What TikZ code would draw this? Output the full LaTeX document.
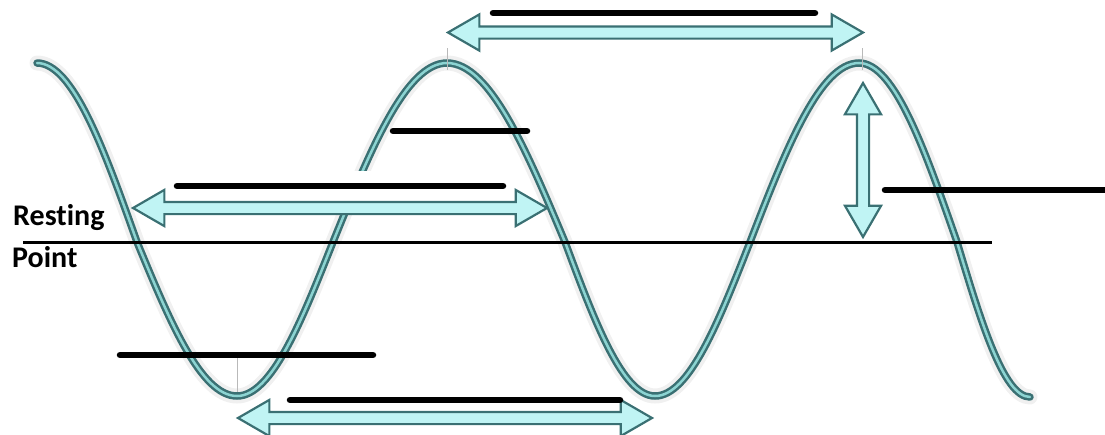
\documentclass[tikz,border=0pt]{standalone}
\usepackage{fontspec}
\setmainfont{Carlito}[Ligatures={NoCommon}]
\usetikzlibrary{shapes.arrows}
\definecolor{wavedark}{RGB}{58,112,115}
\definecolor{wavelight}{RGB}{140,212,210}
\definecolor{arrowfill}{RGB}{192,244,244}
\begin{document}
\begin{tikzpicture}[x=1pt,y=-1pt,
  glow/.style={line width=15pt, draw=gray!12, line cap=round},
  wave/.style={line width=7.5pt, draw=wavedark, line cap=round},
  waveinner/.style={line width=2.5pt, draw=wavelight, line cap=round},
  dblarrow/.style={double arrow, draw=wavedark, fill=arrowfill, line width=2.2pt,
    inner xsep=0pt, inner ysep=5pt, double arrow head extend=12pt,
    double arrow tip angle=60, minimum height=#1, anchor=center},
  blank/.style={line width=6.5pt, line cap=round, draw=black},
  rest/.style={line width=3pt, draw=black},
  tickmark/.style={line width=1pt, draw=gray!55},
  lbl/.style={font=\bfseries\fontsize{30}{33}\selectfont, inner sep=0pt, anchor=base west}]
\useasboundingbox (0,0) rectangle (1105,434);
% wave
\draw[glow] (37,63) cos (137,242) sin (237,396) cos (333,242) sin (447,63) cos (565,242) sin (655,396) cos (750,242) sin (859,63) cos (957,242) sin (1030,397);
\draw[wave] (37,63) cos (137,242) sin (237,396) cos (333,242) sin (447,63) cos (565,242) sin (655,396) cos (750,242) sin (859,63) cos (957,242) sin (1030,397);
\draw[waveinner] (37,63) cos (137,242) sin (237,396) cos (333,242) sin (447,63) cos (565,242) sin (655,396) cos (750,242) sin (859,63) cos (957,242) sin (1030,397);
% tick marks
\draw[tickmark] (447,48) -- (447,70);
\draw[tickmark] (862,48) -- (862,70);
\draw[tickmark] (237,355) -- (237,392);
% white mask
\fill[white] (335,171) rectangle (392,201);
% resting line
\coordinate (restL) at (23,242);
\coordinate (restR) at (992,242);
\draw[rest] (restL) -- (restR);
% arrows
\node[dblarrow=415pt] (wavelength top) at (655.5,32.5) {};
\node[dblarrow=414pt] (wavelength mid) at (340,208) {};
\node[dblarrow=414pt] (wavelength bot) at (445,418) {};
\node[dblarrow=154pt, rotate=90] (amplitude) at (863,160) {};
% blank lines
\coordinate (b1a) at (493,13);  \coordinate (b1b) at (815,13);
\coordinate (b2a) at (393,131); \coordinate (b2b) at (527,131);
\coordinate (b3a) at (177,186); \coordinate (b3b) at (503,186);
\coordinate (b4a) at (885,190); \coordinate (b4b) at (1108,190);
\coordinate (b5a) at (120,355); \coordinate (b5b) at (373,355);
\coordinate (b6a) at (290,400); \coordinate (b6b) at (620,400);
\draw[blank] (b1a) -- (b1b);
\draw[blank] (b2a) -- (b2b);
\draw[blank] (b3a) -- (b3b);
\draw[blank] (b4a) -- (b4b);
\draw[blank] (b5a) -- (b5b);
\draw[blank] (b6a) -- (b6b);
% labels
\node[lbl] (resting) at (13,225) {Resting};
\node[lbl] (point) at (12,267) {Point};
\end{tikzpicture}
\end{document}
